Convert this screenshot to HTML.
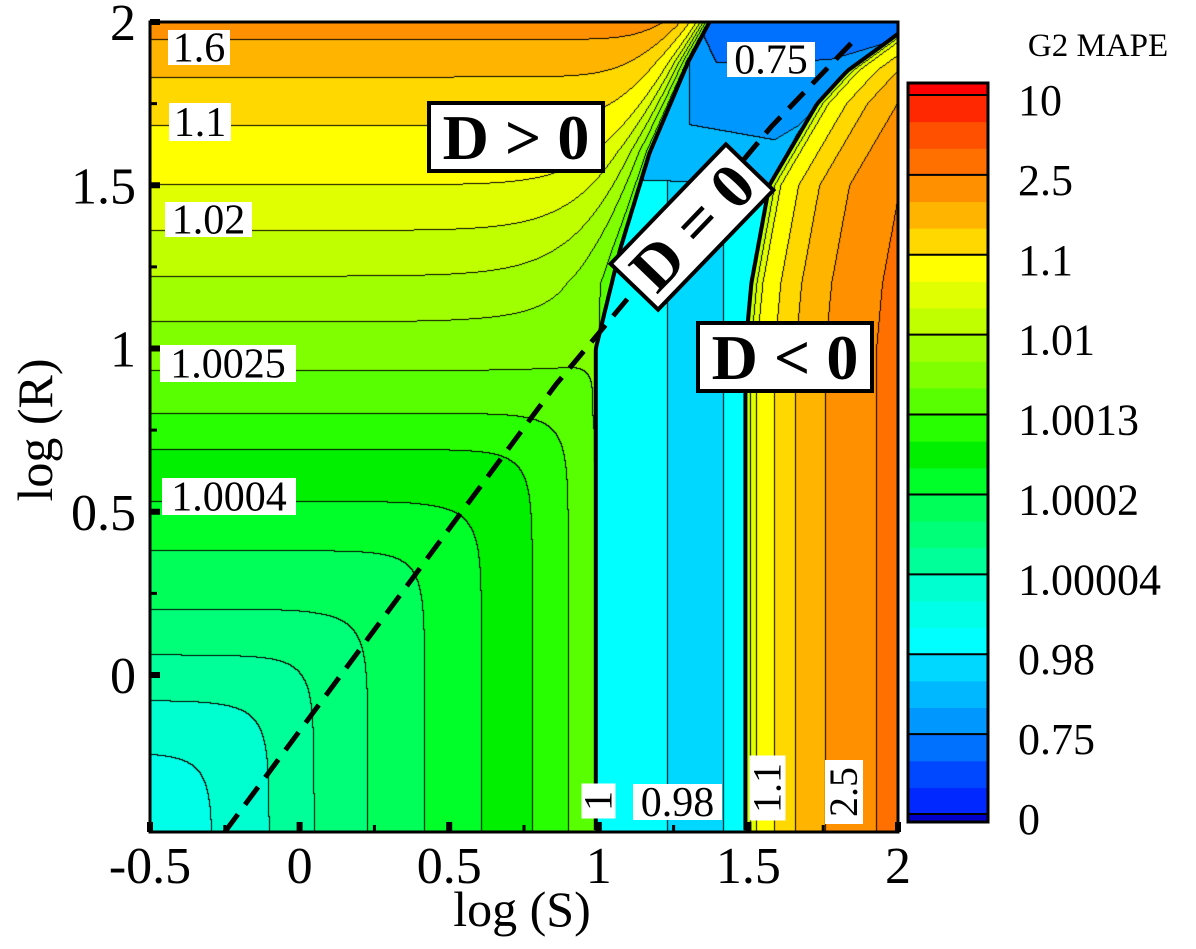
<!DOCTYPE html>
<html><head><meta charset="utf-8">
<style>
html,body{margin:0;padding:0;background:#fff;}
#wrap{position:relative;width:1196px;height:949px;overflow:hidden;font-family:"Liberation Serif",serif;}
canvas{position:absolute;left:150px;top:22px;}
svg{position:absolute;left:0;top:0;}
svg text{font-family:"Liberation Serif","Times New Roman",serif;}
</style></head>
<body>
<div id="wrap">
<canvas id="field" width="748" height="810"></canvas>
<svg id="ov" width="1196" height="949"><defs><clipPath id="plotclip"><rect x="150" y="22" width="748" height="810"/></clipPath></defs></svg>
</div>
<script>
// ---- data ----
const BAND_COLORS = ["#0000c8","#0028ff","#0048ff","#0070ff","#0098ff","#00b8ff","#00d8ff","#00ffff","#00ffe8","#00ffd0",
"#00ff98","#00ff78","#00ff58","#00ff28","#00f000","#28ff00","#58ff00","#80ff00","#a0ff00","#c0ff00",
"#e0ff00","#ffff00","#ffd800","#ffb400","#ff9000","#ff7000","#ff5000","#ff2800","#ff0000"];
const CBAR_LABELS = ["0","0.75","0.98","1.00004","1.0002","1.0013","1.01","1.1","2.5","10"];
const X_TICKS = [-0.5,0,0.5,1,1.5,2];
const X_TICK_LABELS = ["-0.5","0","0.5","1","1.5","2"];
const Y_TICKS = [0,0.5,1,1.5,2];
const Y_TICK_LABELS = ["0","0.5","1","1.5","2"];
const LEFT_T = [-0.24,-0.08,0.06,0.20,0.38,0.53,0.69,0.80,0.93,1.08,1.22,1.36,1.50,1.68,1.83,1.945];
const LEFT_SX = [-0.5,-0.29,-0.1,0.05,0.23,0.42,0.61,0.78,0.9,0.99,1.05];
const LEFT_TX = [-0.44,-0.24,-0.08,0.06,0.2,0.38,0.53,0.69,0.8,0.93,1.0];
const BOUND_B_R = [-0.5,1.0,1.3,1.6,1.88,2.0];
const BOUND_B_S = [0.99,0.99,1.07,1.17,1.3,1.37];
const BOUND_C_R = [-0.5,1.0,1.2,1.5,1.75,1.85,1.95,2.0];
const BOUND_C_S = [1.49,1.49,1.51,1.57,1.73,1.83,1.98,2.05];
const RIGHT_U = [1.51,1.53,1.59,1.66,1.76,1.93];
const MID_S = [1.23,1.42];
const MID_BANDS = [7,6,7];
const ZONE5_S = [1.004,2.0,2.0,1.672,1.572,1.138];
const ZONE5_R = [2.0,2.0,1.883,1.669,1.5,1.515];
const ZONE4_S = [1.305,2.0,2.0,1.84,1.672,1.589,1.305];
const ZONE4_R = [2.0,2.0,1.899,1.853,1.684,1.638,1.684];
const ZONE3_S = [1.338,2.0,2.0,1.773,1.395,1.358];
const ZONE3_R = [2.0,2.0,1.945,1.883,1.874,1.945];
const DLINE_S = [-0.25,0.857,1.577,1.87];
const DLINE_R = [-0.481,0.89,1.68,1.96];

// ---- axes ----
const X0=150,X1=898,Y0=22,Y1=832;
const SMIN=-0.5,SMAX=2,RMAX=2,RMIN=2-(Y1-Y0)/326.5;
const xPx = s => X0+(s-SMIN)/(SMAX-SMIN)*(X1-X0);
const yPx = r => Y0+(RMAX-r)/(RMAX-RMIN)*(Y1-Y0);
const sOf = x => SMIN+(x-X0)/(X1-X0)*(SMAX-SMIN);
const rOf = y => RMAX-(y-Y0)/(Y1-Y0)*(RMAX-RMIN);

function interp(x,xs,ys){
  if(x<=xs[0]) return ys[0];
  for(let i=1;i<xs.length;i++){ if(x<=xs[i]){const f=(x-xs[i-1])/(xs[i]-xs[i-1]);return ys[i-1]+f*(ys[i]-ys[i-1]);} }
  return ys[ys.length-1];
}
function inPoly(s,r,PS,PR){
  let c=false;
  for(let i=0,j=PS.length-1;i<PS.length;j=i++){
    if(((PR[i]>r)!==(PR[j]>r)) && (s < (PS[j]-PS[i])*(r-PR[i])/(PR[j]-PR[i])+PS[i])) c=!c;
  }
  return c;
}
function band(s,r){
  const sb=interp(r,BOUND_B_R,BOUND_B_S), sc=interp(r,BOUND_C_R,BOUND_C_S);
  if(s<sb){
    const ts=interp(s,LEFT_SX,LEFT_TX);
    const k=14, m=Math.max(ts,r);
    let t=m+Math.log(Math.exp(k*(ts-m))+Math.exp(k*(r-m)))/k;
    if(r>0.8){
      const w0=0.16-0.11*Math.min(Math.max(r-1,0),1);
      const w=Math.exp(-(sb-s)/w0)*Math.min(Math.max((r-0.8)/0.4,0),1);
      t=t*(1-w)+0.85*w;
    }
    let b=8; for(const T of LEFT_T){ if(t>T) b++; }
    return b;
  } else if(s<sc){
    let b=MID_BANDS[0]; if(s>=MID_S[0]) b=MID_BANDS[1]; if(s>=MID_S[1]) b=MID_BANDS[2];
    if(inPoly(s,r,ZONE5_S,ZONE5_R)) b=Math.min(b,5);
    if(inPoly(s,r,ZONE4_S,ZONE4_R)) b=Math.min(b,4);
    if(inPoly(s,r,ZONE3_S,ZONE3_R)) b=Math.min(b,3);
    return b;
  } else {
    const u=s-(sc-1.49);
    let b=19; for(const U of RIGHT_U){ if(u>U) b++; }
    return b;
  }
}
// ---- field ----
const cv=document.getElementById('field'), ctx=cv.getContext('2d');
const W=cv.width,H=cv.height;
const B=new Uint8Array(W*H);
for(let j=0;j<H;j++){const r=rOf(Y0+j+0.5);for(let i=0;i<W;i++){B[j*W+i]=band(sOf(X0+i+0.5),r);}}
const rgb=BAND_COLORS.map(h=>[parseInt(h.substr(1,2),16),parseInt(h.substr(3,2),16),parseInt(h.substr(5,2),16)]);
const img=ctx.createImageData(W,H);
for(let j=0;j<H;j++)for(let i=0;i<W;i++){
  const p=j*W+i,b=B[p];let c=rgb[b];
  const edge=(i+1<W&&B[p+1]!==b)||(j+1<H&&B[p+W]!==b);
  if(edge)c=[0,0,0];
  img.data[p*4]=c[0];img.data[p*4+1]=c[1];img.data[p*4+2]=c[2];img.data[p*4+3]=255;
}
ctx.putImageData(img,0,0);

// ---- overlay ----
const NS="http://www.w3.org/2000/svg", svg=document.getElementById('ov');
function mk(tag,attrs,parent){const e=document.createElementNS(NS,tag);for(const k in attrs)e.setAttribute(k,attrs[k]);(parent||svg).appendChild(e);return e;}

const clipG=mk('g',{"clip-path":"url(#plotclip)"});


function curvePts(RS,SS){const pts=[];for(let y=Y0;y<=Y1;y+=4){const r=rOf(y);pts.push(xPx(interp(r,RS,SS)).toFixed(1)+","+y);}return pts.join(" ");}
const bl1=mk('polyline',{points:curvePts(BOUND_B_R,BOUND_B_S),fill:"none",stroke:"#000","stroke-width":4},clipG);


const bl2=mk('polyline',{points:curvePts(BOUND_C_R,BOUND_C_S),fill:"none",stroke:"#000","stroke-width":4},clipG);


const dl=mk('polyline',{points:DLINE_S.map((s,i)=>xPx(s).toFixed(1)+","+yPx(DLINE_R[i]).toFixed(1)).join(" "),fill:"none",stroke:"#000","stroke-width":5,"stroke-dasharray":"22 12"},clipG);



function boxLabel(name,txt,x,y,w,h,fs,rot){
  const g=mk('g',{transform:rot?`rotate(${rot} ${x+w/2} ${y+h/2})`:""});
  
  
  mk('rect',{x:x,y:y,width:w,height:h,fill:"#fff"},g);
  const t=mk('text',{x:x+w/2,y:y+h/2+fs*0.33,"font-size":fs,"text-anchor":"middle",fill:"#000"},g);
  t.textContent=txt;
}
boxLabel('contour-label-1-6',"1.6",168,30,62,35,42);
boxLabel('contour-label-1-1',"1.1",169,103,62,38,42);
boxLabel('contour-label-1-02',"1.02",165,202,87,35,42);
boxLabel('contour-label-1-0025',"1.0025",160,345,136,37,42);
boxLabel('contour-label-1-0004',"1.0004",162,478,134,37,42);
boxLabel('contour-label-0-75',"0.75",727,42,88,35,42);
boxLabel('contour-label-0-98',"0.98",633,784,89,36,42);
boxLabel('contour-label-1',"1",581,784,35,34,40,-90);
boxLabel('contour-label-1-1-right',"1.1",735,770,65,36,40,-90);
boxLabel('contour-label-2-5',"2.5",812,773,64,38,40,-90);

function dBox(name,txt,cx,cy,w,h,rot){
  const g=mk('g',{transform:`rotate(${rot} ${cx} ${cy})`});
  
  
  mk('rect',{x:cx-w/2,y:cy-h/2,width:w,height:h,fill:"#fff",stroke:"#000","stroke-width":4},g);
  const t=mk('text',{x:cx,y:cy+22,"font-size":64,"font-weight":"bold","text-anchor":"middle",fill:"#000"},g);
  t.textContent=txt;
}
dBox('region-label-d-positive',"D > 0",516,137,174,68,0);
dBox('region-label-d-negative',"D < 0",785,357,174,68,0);
dBox('region-label-d-zero',"D = 0",692,227,166,66,-46);

const fr=mk('rect',{x:X0,y:Y0,width:X1-X0,height:Y1-Y0,fill:"none",stroke:"#000","stroke-width":3});



X_TICKS.forEach((v,i)=>{
  const x=xPx(v);
  const tk=mk('rect',{x:x-3,y:Y1-10,width:6,height:10,fill:"#000"});
  
  
  const t=mk('text',{x:x,y:883,"font-size":52,"text-anchor":"middle",fill:"#000"});
  
  
  t.textContent=X_TICK_LABELS[i];
});
Y_TICKS.forEach((v,i)=>{
  const y=yPx(v);
  const tk=mk('rect',{x:X0,y:y-3,width:10,height:6,fill:"#000"});
  
  
  const t=mk('text',{x:136,y:y+18,"font-size":52,"text-anchor":"end",fill:"#000"});
  
  
  t.textContent=Y_TICK_LABELS[i];
  if(v>0){const m=mk('rect',{x:X0,y:yPx(v-0.25)-1.5,width:7,height:3,fill:"#000"});
    
    }
});
X_TICKS.slice(1).forEach(v=>{const m=mk('rect',{x:xPx(v-0.25)-1.5,y:Y1-7,width:3,height:7,fill:"#000"});
  
  });

const xt=mk('text',{x:522,y:926,"font-size":50,"text-anchor":"middle",fill:"#000"});


xt.textContent="log (S)";
const yt=mk('text',{x:0,y:0,"font-size":50,"text-anchor":"middle",fill:"#000",transform:"translate(52 430) rotate(-90)"});


yt.textContent="log (R)";

const CB_X=908,CB_W=80,CB_TOP=83,CB_BOT=822,GROUP_TOP=95,GROUP_BOT=814;
const gH=(GROUP_BOT-GROUP_TOP)/9;
const cbg=mk('g',{});


BAND_COLORS.forEach((c,b)=>{
  let yTop,yBot;
  if(b===28){yTop=CB_TOP;yBot=GROUP_TOP;}
  else if(b===0){yTop=GROUP_BOT;yBot=CB_BOT;}
  else {const k=b-1;yBot=GROUP_BOT-k*gH/3;yTop=yBot-gH/3;}
  const r=mk('rect',{x:CB_X,y:yTop,width:CB_W,height:yBot-yTop+0.5,fill:c},cbg);
  
  
});
CBAR_LABELS.forEach((lab,k)=>{
  const y=GROUP_BOT-k*gH;
  mk('line',{x1:CB_X,x2:CB_X+CB_W,y1:y,y2:y,stroke:"#000","stroke-width":2},cbg);
  const t=mk('text',{x:1018,y:y+20,"font-size":44,fill:"#000"},cbg);
  
  
  t.textContent=lab;
});
mk('rect',{x:CB_X,y:CB_TOP,width:CB_W,height:CB_BOT-CB_TOP,fill:"none",stroke:"#000","stroke-width":3},cbg);
const ct=mk('text',{x:1098,y:56,"font-size":33,"text-anchor":"middle",fill:"#000"});


ct.textContent="G2 MAPE";
</script>
</body></html>
